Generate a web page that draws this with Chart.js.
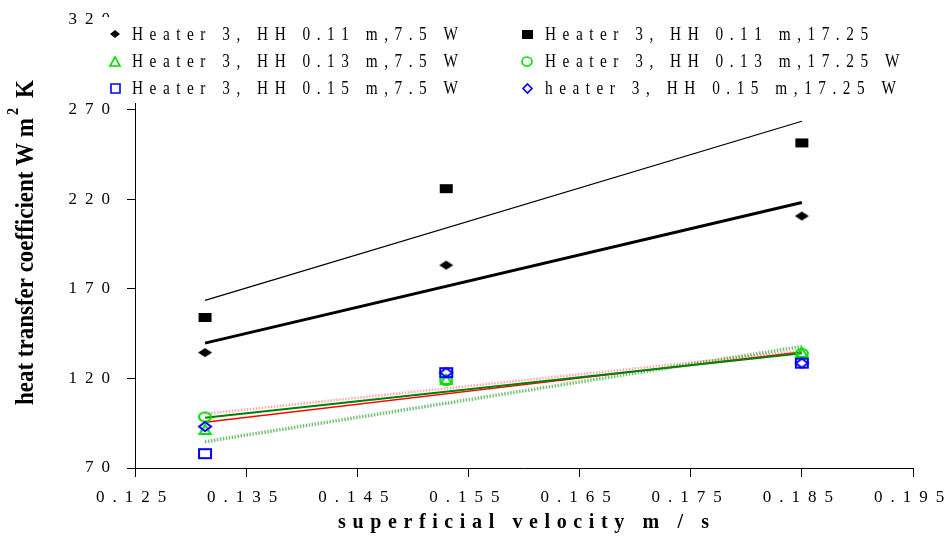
<!DOCTYPE html>
<html><head><meta charset="utf-8">
<script src="https://cdn.jsdelivr.net/npm/chart.js@4/dist/chart.umd.min.js"></script>
<style>html,body{margin:0;padding:0;background:#fff}canvas{display:block}</style>
</head><body>
<canvas id="c" width="948" height="537"></canvas>
<script>
// ---- data ----
const velocity = [0.1313, 0.153, 0.185];
const hh011_75   = [134.4, 183.2, 210.6];
const hh011_1725 = [154.0, 225.9, 251.4];
const hh013_75   = [91.5, 119.5, 134.5];
const hh013_1725 = [98.5, 118.8, 134.0];
const hh015_75   = [78.0, 123.2, 128.5];
const hh015_1725 = [93.1, 123.2, 128.5];

const trendX = [0.1313, 0.185];
const trendThinBlack   = [163.5, 263.5];
const trendThickBlack  = [139.7, 218.2];
const trendRedDotted   = [100.2, 135.4];
const trendGreenSolid  = [98.1, 134.1];
const trendRedSolid    = [95.5, 134.8];
const trendGreenDotted = [84.7, 137.8];

const xTicks = [0.125, 0.135, 0.145, 0.155, 0.165, 0.175, 0.185, 0.195];
const yTicks = [70, 120, 170, 220, 270, 320];

const seriesLabels = [
  'Heater 3, HH 0.11 m,7.5 W',
  'Heater 3, HH 0.11 m,17.25',
  'Heater 3, HH 0.13 m,7.5 W',
  'Heater 3, HH 0.13 m,17.25 W',
  'Heater 3, HH 0.15 m,7.5 W',
  'heater 3, HH 0.15 m,17.25 W'
];
const xTitle = 'superficial velocity m / s';
const yTitleMain = 'heat transfer coefficient W m';
const yTitleSup = '2';
const yTitleEnd = 'K';

// ---- marker images ----
function marker(shape, w, h, color, fill, lw) {
  const c = document.createElement('canvas');
  c.width = w + 4; c.height = h + 4;
  const g = c.getContext('2d');
  const cx = c.width / 2, cy = c.height / 2;
  g.beginPath();
  if (shape === 'diamond') { g.moveTo(cx, cy - h / 2); g.lineTo(cx + w / 2, cy); g.lineTo(cx, cy + h / 2); g.lineTo(cx - w / 2, cy); g.closePath(); }
  else if (shape === 'rect') { g.rect(cx - w / 2, cy - h / 2, w, h); }
  else if (shape === 'tri') { g.moveTo(cx, cy - h / 2); g.lineTo(cx + w / 2, cy + h / 2); g.lineTo(cx - w / 2, cy + h / 2); g.closePath(); }
  else if (shape === 'ellipse') { g.ellipse(cx, cy, w / 2, h / 2, 0, 0, Math.PI * 2); }
  if (fill) { g.fillStyle = color; g.fill(); }
  else { g.strokeStyle = color; g.lineWidth = lw; g.stroke(); }
  return c;
}
const GREEN = '#00dd00', BLUE = '#0000ff';
const pointImgs = [
  marker('diamond', 14, 9, '#000', true),
  marker('rect', 13, 9, '#000', true),
  marker('tri', 11, 9, GREEN, false, 2),
  marker('ellipse', 12, 9, GREEN, false, 2),
  marker('rect', 12, 9, BLUE, false, 2),
  marker('diamond', 12, 9, BLUE, false, 2)
];
const legendImgs = [
  marker('diamond', 10, 8, '#000', true),
  marker('rect', 11, 9, '#000', true),
  marker('tri', 10, 9, GREEN, false, 1.6),
  marker('ellipse', 10, 9, GREEN, false, 1.6),
  marker('rect', 9, 9, BLUE, false, 1.6),
  marker('diamond', 9, 9, BLUE, false, 1.6)
];

const pts = arr => velocity.map((v, i) => ({ x: v, y: arr[i] }));
const tpts = arr => trendX.map((v, i) => ({ x: v, y: arr[i] }));

const seriesValues = [hh011_75, hh011_1725, hh013_75, hh013_1725, hh015_75, hh015_1725];
const markerOrder = [1, 1, 3, 2, 1, 0];
const datasets = seriesValues.map((vals, i) => ({
  label: seriesLabels[i], data: pts(vals), showLine: false,
  pointStyle: pointImgs[i], pointRadius: 6, order: markerOrder[i]
}));
function trend(vals, color, width, dash) {
  return { label: '', data: tpts(vals), showLine: true, pointRadius: 0, borderColor: color,
    borderWidth: width, borderDash: dash || [], fill: false, tension: 0, order: 10 };
}
datasets.push(
  trend(trendThinBlack, '#000', 1.3),
  trend(trendThickBlack, '#000', 3),
  trend(trendGreenDotted, 'rgba(0,140,0,0.55)', 3.5, [1.5, 1.5]),
  trend(trendRedDotted, 'rgba(255,60,60,0.45)', 2.5, [1.5, 1.5]),
  trend(trendGreenSolid, '#008000', 2),
  trend(trendRedSolid, '#ff0000', 1.5)
);

// ---- helpers for spaced, condensed text ----
function drawSpaced(ctx, text, x, y, spacing, sx) {
  let cx = x;
  for (const ch of text) {
    ctx.save(); ctx.translate(cx, y); ctx.scale(sx, 1); ctx.fillText(ch, 0, 0); ctx.restore();
    cx += ctx.measureText(ch).width * sx + spacing;
  }
  return cx - spacing;
}
function spacedWidth(ctx, text, spacing, sx) {
  let w = 0; for (const ch of text) w += ctx.measureText(ch).width * sx + spacing; return w - spacing;
}

const textPlugin = {
  id: 'textPlugin',
  beforeDraw(chart) { try { chart.ctx.letterSpacing = '8px'; } catch (e) {} },
  afterDraw(chart) {
    const ctx = chart.ctx;
    ctx.save();
    try { ctx.letterSpacing = '0px'; } catch (e) {}
    // legend box (white) over the top of the plot
    ctx.fillStyle = '#fff';
    ctx.fillRect(100, 17, 838, 86);
    ctx.fillStyle = '#000';
    ctx.textBaseline = 'middle';
    ctx.textAlign = 'left';
    ctx.font = '18px "Liberation Serif", "Times New Roman", serif';
    const lsx = 0.85;
    const legSpacing = (326 - spacedWidth(ctx, seriesLabels[0], 0, lsx)) / (seriesLabels[0].length - 1);
    seriesLabels.forEach((lab, i) => {
      const col = i % 2, row = Math.floor(i / 2);
      const mx = col ? 527 : 115, tx = col ? 545 : 132, y = 34 + row * 27;
      const img = legendImgs[i];
      ctx.drawImage(img, Math.round(mx - img.width / 2), Math.round(y - img.height / 2));
      drawSpaced(ctx, lab, tx, y + 1, legSpacing, lsx);
    });
    // x axis title
    ctx.font = 'bold 20px "Liberation Serif", "Times New Roman", serif';
    const xs = (371 - spacedWidth(ctx, xTitle, 0, 1)) / (xTitle.length - 1);
    drawSpaced(ctx, xTitle, 338, 523, xs, 1);
    // y axis title (rotated, condensed)
    ctx.save();
    ctx.translate(25, 405);
    ctx.rotate(-Math.PI / 2);
    ctx.font = 'bold 26px "Liberation Serif", "Times New Roman", serif';
    const w1 = ctx.measureText(yTitleMain).width;
    const sc = 287 / w1;
    ctx.save(); ctx.scale(sc, 1); ctx.fillText(yTitleMain, 0, 1); ctx.restore();
    ctx.font = 'bold 16px "Liberation Serif", "Times New Roman", serif';
    ctx.save(); ctx.translate(290, -11); ctx.scale(sc, 1); ctx.fillText(yTitleSup, 0, 0); ctx.restore();
    ctx.font = 'bold 26px "Liberation Serif", "Times New Roman", serif';
    ctx.save(); ctx.translate(307, 0); ctx.scale(sc, 1); ctx.fillText(yTitleEnd, 0, 1); ctx.restore();
    ctx.restore();
    ctx.restore();
  }
};

const tickFont = { family: '"Liberation Serif", "Times New Roman", serif', size: 17 };
new Chart(document.getElementById('c'), {
  type: 'scatter',
  data: { datasets },
  options: {
    responsive: false, animation: false, events: [],
    layout: { padding: { top: 20, right: 35, bottom: 0, left: 0 } },
    plugins: { legend: { display: false }, tooltip: { enabled: false }, title: { display: false } },
    scales: {
      x: {
        type: 'linear', min: 0.125, max: 0.195,
        afterBuildTicks: s => { s.ticks = xTicks.map(v => ({ value: v })); },
        afterFit: s => { s.height = 69; s.paddingLeft = 0; s.paddingRight = 0; },
        ticks: { font: tickFont, color: '#000', padding: 10, maxRotation: 0, autoSkip: false,
          callback: v => Number(v).toFixed(3) },
        grid: { display: true, drawOnChartArea: false, drawTicks: true, tickLength: 9, color: '#000' },
        border: { display: true, color: '#000', width: 1 }
      },
      y: {
        type: 'linear', min: 70, max: 320,
        afterBuildTicks: s => { s.ticks = yTicks.map(v => ({ value: v })); },
        afterFit: s => { s.width = 135; s.paddingTop = 0; s.paddingBottom = 0; },
        ticks: { font: tickFont, color: '#000', padding: 9, autoSkip: false,
          callback: v => String(v) },
        grid: { display: true, drawOnChartArea: false, drawTicks: true, tickLength: 8, color: '#000' },
        border: { display: true, color: '#000', width: 1 }
      }
    }
  },
  plugins: [textPlugin]
});
</script>
</body></html>
